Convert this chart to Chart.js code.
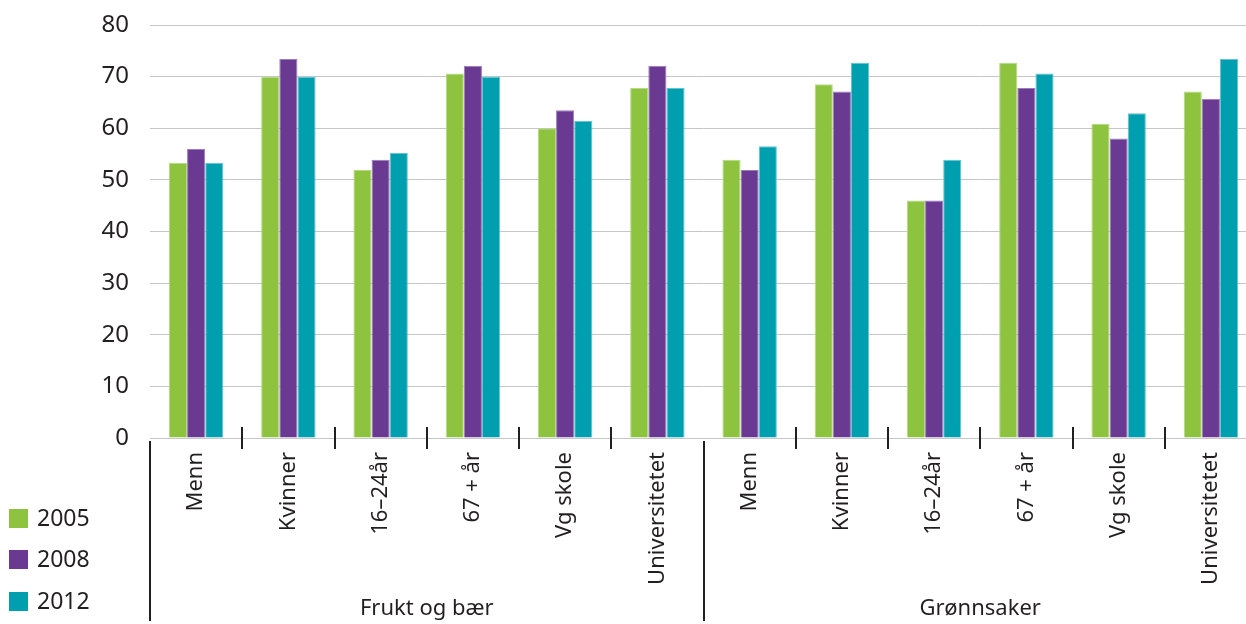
<!DOCTYPE html>
<html>
<head>
<meta charset="utf-8">
<script src="https://cdn.jsdelivr.net/npm/chart.js@4/dist/chart.umd.min.js"></script>
<style>
  html, body { margin: 0; padding: 0; background: #fff; overflow: hidden; }
  #wrap { width: 1257px; height: 624px; }
</style>
</head>
<body>
<div id="wrap"><canvas id="chart"></canvas></div>
<script>
// categories (two groups of six)
const categories = [
  'Menn', 'Kvinner', '16–24år', '67 + år', 'Vg skole', 'Universitetet',
  'Menn', 'Kvinner', '16–24år', '67 + år', 'Vg skole', 'Universitetet'
];
const groups = ['Frukt og bær', 'Grønnsaker'];
const groupSize = 6;
const years = ['2005', '2008', '2012'];

// values
const v2005 = [53.3, 70, 51.9, 70.6, 60, 67.8, 53.9, 68.5, 46, 72.7, 60.8, 67.1];
const v2008 = [56, 73.4, 53.9, 72.1, 63.5, 72.1, 51.9, 67.1, 46, 67.8, 58, 65.7];
const v2012 = [53.3, 70, 55.2, 70, 61.4, 67.8, 56.5, 72.7, 53.9, 70.6, 62.9, 73.4];

const yTicks = [0, 10, 20, 30, 40, 50, 60, 70, 80];

const FONT = '"Noto Sans", sans-serif';
const TEXT = '#231f20';
const fill = ['#8dc33f', '#6a3a93', '#009fb0'];
const edge = ['#b5da82', '#9a7cba', '#62c4cf'];

// group separators, category ticks and group names under the axis
const groupAxis = {
  id: 'groupAxis',
  afterDraw(chart) {
    const ctx = chart.ctx;
    const x = chart.scales.x;
    const base = chart.chartArea.bottom;
    ctx.save();
    ctx.strokeStyle = '#231f20';
    ctx.lineWidth = 2;
    for (let i = 0; i <= categories.length; i++) {
      const px = Math.round(x.getPixelForValue(i - 0.5));
      ctx.beginPath();
      if (i % groupSize === 0) {
        ctx.moveTo(px, base + 3);
        ctx.lineTo(px, 621);
      } else {
        ctx.moveTo(px, base - 11);
        ctx.lineTo(px, base + 11);
      }
      ctx.stroke();
    }
    ctx.fillStyle = TEXT;
    ctx.font = '22px ' + FONT;
    ctx.textAlign = 'center';
    ctx.textBaseline = 'middle';
    groups.forEach((g, k) => {
      const cx = x.getPixelForValue(k * groupSize + (groupSize - 1) / 2);
      ctx.fillText(g, cx, 609);
    });
    ctx.restore();
  }
};

// legend in the bottom left corner
const cornerLegend = {
  id: 'cornerLegend',
  afterDraw(chart) {
    const ctx = chart.ctx;
    const rows = [518, 559, 601];
    ctx.save();
    ctx.font = '23px ' + FONT;
    ctx.textAlign = 'left';
    ctx.textBaseline = 'middle';
    chart.data.datasets.forEach((ds, i) => {
      ctx.fillStyle = ds.backgroundColor;
      ctx.fillRect(9, rows[i] - 9, 19, 19);
      ctx.fillStyle = TEXT;
      ctx.fillText(ds.label, 37, rows[i] + 1);
    });
    ctx.restore();
  }
};

new Chart(document.getElementById('chart'), {
  type: 'bar',
  data: {
    labels: categories,
    datasets: [v2005, v2008, v2012].map((d, i) => ({
      label: years[i],
      data: d,
      backgroundColor: fill[i],
      borderColor: edge[i],
      borderWidth: 1,
      categoryPercentage: 0.59,
      barPercentage: 1
    }))
  },
  options: {
    responsive: true,
    maintainAspectRatio: false,
    animation: false,
    layout: { padding: { left: 102, top: 25, right: 0, bottom: 40 } },
    plugins: {
      legend: { display: false },
      tooltip: { enabled: false }
    },
    scales: {
      x: {
        grid: { display: false, drawTicks: false },
        border: { display: true, color: '#c6c6c6', width: 1 },
        ticks: {
          color: TEXT,
          font: { family: FONT, size: 22 },
          minRotation: 90,
          maxRotation: 90,
          padding: 14,
          autoSkip: false
        },
        afterFit(scale) { scale.height = 146; }
      },
      y: {
        min: 0,
        max: 80,
        afterBuildTicks(scale) { scale.ticks = yTicks.map(v => ({ value: v })); },
        grid: { color: '#c6c6c6', lineWidth: 1, drawTicks: false },
        border: { display: false },
        ticks: {
          color: TEXT,
          font: { family: FONT, size: 24 },
          padding: 21
        },
        afterFit(scale) {
          scale.width = 48;
          scale.paddingTop = 0;
          scale.paddingBottom = 0;
        }
      }
    }
  },
  plugins: [groupAxis, cornerLegend]
});
</script>
</body>
</html>
